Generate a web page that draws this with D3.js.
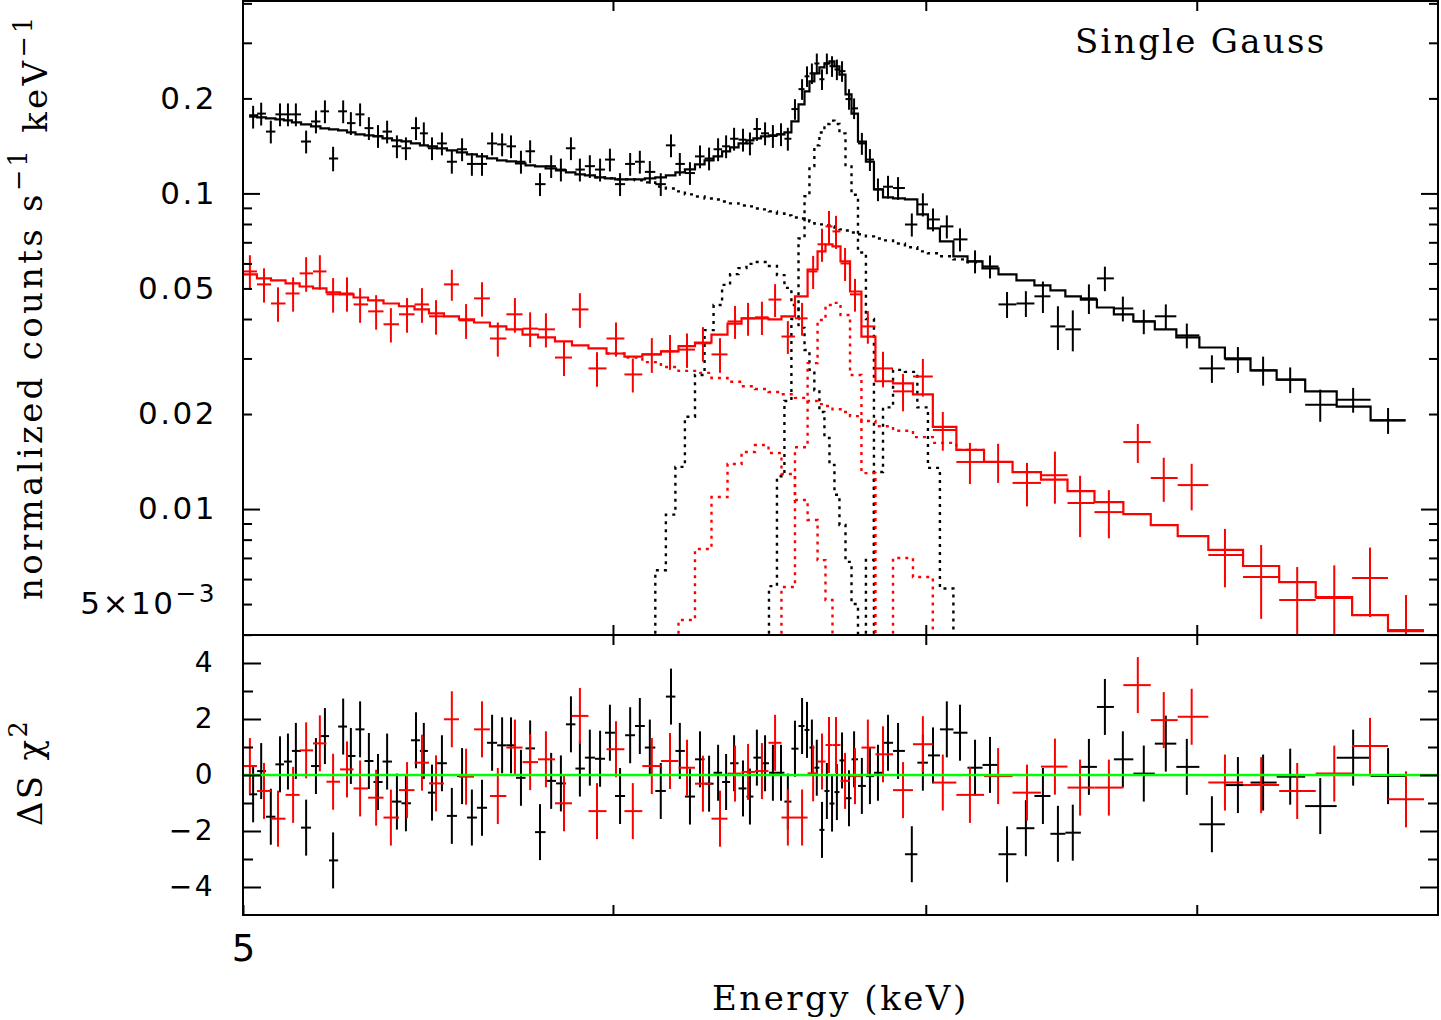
<!DOCTYPE html>
<html>
<head>
<meta charset="utf-8">
<script src="https://cdnjs.cloudflare.com/ajax/libs/d3/7.8.5/d3.min.js"></script>
<style>
  body { margin: 0; background: #fff; }
  svg { display: block; }
</style>
</head>
<body>
<svg id="chart"></svg>
<script>
// ---------- data (keV, normalized counts s^-1 keV^-1) ----------
var blackEnergy = [5.025,5.045,5.069,5.092,5.112,5.132,5.158,5.183,5.206,5.227,
  5.253,5.273,5.297,5.320,5.344,5.368,5.394,5.418,5.445,5.466,
  5.488,5.515,5.542,5.570,5.597,5.625,5.653,5.681,5.706,5.734,
  5.760,5.788,5.820,5.848,5.877,5.903,5.932,5.962,5.991,6.021,
  6.051,6.080,6.110,6.143,6.174,6.201,6.232,6.263,6.291,6.319,
  6.344,6.369,6.397,6.419,6.441,6.467,6.492,6.518,6.540,6.563,
  6.586,6.602,6.618,6.634,6.651,6.667,6.684,6.700,6.717,6.740,
  6.757,6.783,6.810,6.837,6.871,6.905,6.952,6.990,7.025,7.073,
  7.119,7.172,7.225,7.286,7.354,7.416,7.471,7.526,7.586,7.646,
  7.714,7.794,7.879,7.961,8.060,8.164,8.266,8.377,8.502,8.641,
  8.791];
var blackRate = [0.175,0.179,0.157,0.178,0.178,0.178,0.146,0.169,0.182,0.129,
  0.182,0.167,0.178,0.161,0.152,0.157,0.141,0.139,0.161,0.155,
  0.139,0.144,0.126,0.138,0.124,0.124,0.144,0.143,0.141,0.126,
  0.136,0.107,0.122,0.119,0.139,0.119,0.122,0.119,0.128,0.107,
  0.124,0.126,0.117,0.107,0.142,0.124,0.116,0.131,0.129,0.138,
  0.141,0.149,0.148,0.144,0.160,0.155,0.152,0.154,0.149,0.185,
  0.214,0.235,0.240,0.258,0.230,0.258,0.253,0.247,0.244,0.199,
  0.186,0.144,0.128,0.103,0.105,0.104,0.0797,0.0923,0.0827,0.0786,
  0.0715,0.0609,0.0587,0.0445,0.0448,0.0472,0.0379,0.0371,0.0465,0.0538,
  0.0432,0.0393,0.0408,0.0355,0.0279,0.0298,0.0275,0.0257,0.0214,0.0222,
  0.0191];
var blackErr = [0.0145,0.0149,0.0130,0.0148,0.0148,0.0148,0.0121,0.0140,0.0151,0.0115,
  0.0151,0.0139,0.0148,0.0134,0.0126,0.0130,0.0117,0.0115,0.0134,0.0129,
  0.0115,0.0120,0.0105,0.0115,0.0103,0.0103,0.0120,0.0119,0.0117,0.0105,
  0.0113,0.0089,0.0101,0.0099,0.0115,0.0099,0.0101,0.0099,0.0106,0.0089,
  0.0103,0.0105,0.0097,0.0089,0.0118,0.0103,0.0096,0.0109,0.0107,0.0115,
  0.0117,0.0124,0.0123,0.0120,0.0133,0.0129,0.0126,0.0128,0.0124,0.0139,
  0.0161,0.0176,0.0180,0.0194,0.0173,0.0194,0.0190,0.0185,0.0183,0.0149,
  0.0140,0.0115,0.0102,0.0085,0.0087,0.0086,0.0067,0.0078,0.0069,0.0066,
  0.0060,0.0051,0.0049,0.0042,0.0042,0.0054,0.0060,0.0055,0.0050,0.0048,
  0.0039,0.0035,0.0037,0.0032,0.0028,0.0028,0.0029,0.0024,0.0025,0.0020,
  0.0018];
var blackModel = [0.1767,0.1741,0.1729,0.1716,0.1703,0.1679,0.1654,0.1630,0.1607,0.1595,
  0.1584,0.1561,0.1538,0.1527,0.1516,0.1494,0.1472,0.1461,0.1440,0.1419,
  0.1409,0.1389,0.1369,0.1349,0.1329,0.1310,0.1291,0.1272,0.1263,0.1245,
  0.1227,0.1218,0.1200,0.1183,0.1166,0.1149,0.1140,0.1124,0.1116,0.1108,
  0.1108,0.1108,0.1116,0.1124,0.1140,0.1166,0.1191,0.1236,0.1272,0.1310,
  0.1359,0.1399,0.1440,0.1472,0.1494,0.1516,0.1527,0.1538,0.1561,0.1691,
  0.1914,0.2105,0.2264,0.2400,0.2508,0.2582,0.2620,0.2526,0.2380,0.2060,
  0.1790,0.1460,0.1260,0.1030,0.0971,0.0964,0.0957,0.0858,0.0775,0.0705,
  0.0632,0.0609,0.0579,0.0554,0.0530,0.0511,0.0493,0.0472,0.0461,0.0435,
  0.0414,0.0393,0.0371,0.0350,0.0325,0.0300,0.0275,0.0257,0.0236,0.0211,
  0.0191];
var blackDelChi = [-0.69,0.14,-1.49,0.38,0.48,0.86,-1.88,0.32,1.39,-3.05,
  1.73,0.68,1.63,0.50,-0.25,0.48,-0.95,-1.01,1.24,0.86,
  -0.63,0.42,-1.46,-0.04,-1.52,-1.17,1.15,1.06,1.06,-0.10,
  0.95,-2.04,-0.21,-0.30,1.81,0.23,0.62,0.58,1.51,-0.75,
  1.42,1.75,0.98,-0.57,2.80,0.86,-0.77,0.56,-0.31,0.08,
  -0.25,0.42,-0.48,-0.77,0.62,0.42,0.08,0.08,-0.95,0.94,
  1.75,1.61,0.98,0.26,-1.96,-0.57,-1.02,-0.61,0.52,-0.83,
  0.56,-0.39,-0.04,0.08,1.15,0.86,-2.83,0.44,0.70,1.63,
  1.51,0.26,0.36,-2.83,-1.90,-0.75,-2.10,-2.06,0.29,2.43,
  0.56,0.05,1.12,0.29,-1.76,-0.36,-0.27,-0.06,-1.11,0.62,
  -0.04];
// model components (dotted), first bin index given by *Start
var blackContStart = 37;
var blackCont = [0.1124,0.1116,0.1108,0.1108,0.1100,0.1084,0.1052,0.1037,0.1015,0.0993,
  0.0978,0.0964,0.0957,0.0943,0.0930,0.0916,0.0910,0.0896,0.0890,0.0877,
  0.0864,0.0852,0.0839,0.0833,0.0821,0.0815,0.0803,0.0798,0.0792,0.0786,
  0.0780,0.0769,0.0763,0.0752,0.0742,0.0731,0.0720,0.0710,0.0694,0.0675,
  0.0655,0.0646,0.0632,0.0618,0.0605];
var blackLineAStart = 43;
var blackLineA = [0.0064,0.0096,0.0136,0.0196,0.0266,0.0369,0.0443,0.0513,0.0555,0.0580,
  0.0598,0.0606,0.0606,0.0589,0.0551,0.0502,0.0443,0.0375,0.0319,0.0276,
  0.0238,0.0203,0.0168,0.0138,0.0111,0.0089,0.0068,0.0050,0.0036];
var blackLineBStart = 56;
var blackLineB = [0.0057,0.0127,0.022,0.040,0.072,0.098,0.122,0.142,0.156,0.166,
  0.170,0.166,0.155,0.123,0.099,0.065,0.040];
var blackLineCStart = 72;
var blackLineC = [0.0069,0.0131,0.0210,0.0276,0.0272,0.0210,0.0135,0.0056];

var redEnergy = [5.017,5.052,5.087,5.125,5.158,5.193,5.227,5.263,5.297,5.339,
  5.378,5.421,5.461,5.499,5.542,5.581,5.625,5.669,5.717,5.760,
  5.805,5.857,5.903,5.953,6.009,6.059,6.116,6.171,6.223,6.272,
  6.325,6.372,6.413,6.457,6.499,6.540,6.586,6.622,6.651,6.674,
  6.697,6.727,6.760,6.803,6.854,6.922,6.990,7.059,7.154,7.254,
  7.358,7.460,7.553,7.661,7.771,7.871,7.980,8.112,8.258,8.406,
  8.561,8.713,8.869];
var redRate = [0.0566,0.0515,0.0448,0.0482,0.0558,0.0566,0.0479,0.0482,0.0445,0.0423,
  0.0385,0.0414,0.0445,0.0408,0.0515,0.0396,0.0465,0.0347,0.0414,0.0373,
  0.0371,0.0302,0.0429,0.0279,0.0347,0.0267,0.0309,0.0316,0.0320,0.0335,
  0.0309,0.0393,0.0402,0.0405,0.0461,0.0352,0.0402,0.0566,0.0690,0.0786,
  0.0758,0.0600,0.0479,0.0379,0.0279,0.0236,0.0263,0.0178,0.0141,0.0141,
  0.0121,0.0128,0.01045,0.00978,0.0163,0.01254,0.01191,0.00715,0.00609,0.00515,
  0.00523,0.00605,0.00414];
var redErr = [0.0071,0.0064,0.0056,0.0060,0.0070,0.0071,0.0060,0.0060,0.0056,0.0053,
  0.0048,0.0052,0.0056,0.0051,0.0058,0.0050,0.0058,0.0043,0.0052,0.0047,
  0.0046,0.0038,0.0054,0.0035,0.0043,0.0033,0.0039,0.0040,0.0040,0.0042,
  0.0039,0.0047,0.0048,0.0049,0.0055,0.0042,0.0048,0.0068,0.0083,0.0094,
  0.0091,0.0072,0.0057,0.0045,0.0036,0.0032,0.0036,0.0025,0.0021,0.0020,
  0.0019,0.0024,0.0023,0.0017,0.0023,0.0020,0.0020,0.0015,0.0016,0.0014,
  0.0014,0.0015,0.0012];
var redModel = [0.0554,0.0538,0.0530,0.0519,0.0507,0.0500,0.0486,0.0479,0.0468,0.0458,
  0.0448,0.0439,0.0429,0.0417,0.0408,0.0399,0.0390,0.0379,0.0371,0.0357,
  0.0350,0.0340,0.0330,0.0323,0.0311,0.0304,0.0309,0.0316,0.0328,0.0337,
  0.0357,0.0387,0.0402,0.0402,0.0399,0.0408,0.0472,0.0574,0.0655,0.0690,
  0.0680,0.0609,0.0489,0.0352,0.0254,0.0250,0.0231,0.0182,0.0154,0.0141,
  0.0131,0.0124,0.0114,0.01052,0.00964,0.00890,0.00821,0.00742,0.00660,0.00587,
  0.00526,0.00461,0.00410];
var redDelChi = [0.32,-0.57,-1.56,-0.71,0.88,1.13,-0.24,0.20,-0.48,-0.81,
  -1.52,-0.54,0.44,-0.30,1.99,-0.06,1.63,-0.75,0.98,0.46,
  0.56,-1.01,2.11,-1.29,0.92,-1.29,0.32,0.50,0.26,-0.31,
  -1.56,0.05,0.11,0.14,1.15,-1.52,-1.52,0.06,0.48,1.07,
  1.07,-0.21,-0.04,0.98,0.74,-0.54,1.10,-0.27,-0.71,-0.04,
  -0.63,0.30,-0.45,-0.45,3.21,1.96,2.08,-0.27,-0.36,-0.57,
  0.05,1.04,-0.87];
var redContStart = 24;
var redCont = [0.0311,0.0302,0.0292,0.0282,0.0274,0.0270,0.0260,0.0253,0.0245,0.0240,
  0.0235,0.0231,0.0225,0.0220,0.0215,0.0212,0.0207,0.0203,0.0197,0.0190,
  0.0183,0.0177,0.0169,0.0162,0.0154];
var redLineAStart = 28;
var redLineA = [0.00445,0.00747,0.01092,0.01389,0.01516,0.01595,0.01505,0.01291,0.01068,0.00923,
  0.00689,0.00515,0.00385];
var redLineBStart = 35;
var redLineB = [0.00566,0.0157,0.0290,0.0397,0.0443,0.0450,0.0412,0.0266,0.0130];
var redLineCStart = 45;
var redLineC = [0.00700,0.00609];

// axis ticks and labels
var energyTicks = [6, 7, 8];
var yTopMajorTicks = [0.01, 0.1];
var yTopMinorTicks = [0.004,0.005,0.006,0.007,0.008,0.009,0.02,0.03,0.04,0.05,0.06,0.07,0.08,0.09,0.2,0.3,0.4];
var yTopLabelValues = [0.2, 0.1, 0.05, 0.02, 0.01, 0.005];
var yTopLabels = ["0.2", "0.1", "0.05", "0.02", "0.01", "5\u00d710"];
var resMajorTicks = [-4, -2, 0, 2, 4];
var resMinorTicks = [-3, -1, 1, 3];
var resLabels = ["\u22124", "\u22122", "0", "2", "4"];

// ---------- layout ----------
var width = 1441, height = 1020;
var plotLeft = 243, plotRight = 1438, plotTop = 1, panelSplit = 635, plotBottom = 915;

var svg = d3.select("#chart")
  .attr("width", width)
  .attr("height", height);

var x = d3.scaleLog().domain([5, 9.01]).range([plotLeft, plotRight]);
var y = d3.scaleLog().domain([0.00399, 0.407]).range([panelSplit, plotTop]);
var yRes = d3.scaleLinear().domain([-5, 5]).range([plotBottom, panelSplit]);

var defs = svg.append("defs");
defs.append("clipPath").attr("id", "clipTop").append("rect")
  .attr("x", plotLeft).attr("y", plotTop)
  .attr("width", plotRight - plotLeft).attr("height", panelSplit - plotTop);
defs.append("clipPath").attr("id", "clipRes").append("rect")
  .attr("x", plotLeft).attr("y", panelSplit)
  .attr("width", plotRight - plotLeft).attr("height", plotBottom - panelSplit);

// bin edges halfway (in log E) between neighbouring bin centres
function edgesOf(c) {
  var e = [];
  for (var i = 1; i < c.length; i++) e.push(Math.sqrt(c[i - 1] * c[i]));
  e.unshift(c[0] * c[0] / e[0]);
  var n = c.length - 1;
  e.push(c[n] * c[n] / e[e.length - 1]);
  return e;
}
var blackEdges = edgesOf(blackEnergy);
var redEdges = edgesOf(redEnergy);

var topG = svg.append("g").attr("clip-path", "url(#clipTop)");
var resG = svg.append("g").attr("clip-path", "url(#clipRes)");

function crosses(g, edges, centers, vals, errFn, color, yScale) {
  var c = g.append("g").attr("stroke", color).attr("stroke-width", 2);
  c.selectAll("line.h").data(vals).enter().append("line").attr("class", "h")
    .attr("x1", function(d, i) { return x(edges[i]); })
    .attr("x2", function(d, i) { return x(edges[i + 1]); })
    .attr("y1", function(d) { return yScale(d); })
    .attr("y2", function(d) { return yScale(d); });
  c.selectAll("line.v").data(vals).enter().append("line").attr("class", "v")
    .attr("x1", function(d, i) { return x(centers[i]); })
    .attr("x2", function(d, i) { return x(centers[i]); })
    .attr("y1", function(d, i) { return yScale(d - errFn(i)); })
    .attr("y2", function(d, i) { return yScale(d + errFn(i)); });
}

var stepLine = d3.line()
  .x(function(d) { return x(d[0]); })
  .y(function(d) { return y(d[1]); });

function steps(edges, vals, start, drop) {
  var pts = [];
  if (drop) pts.push([edges[start], 0.002]);
  vals.forEach(function(v, k) {
    pts.push([edges[start + k], v], [edges[start + k + 1], v]);
  });
  if (drop) pts.push([edges[start + vals.length], 0.002]);
  return pts;
}

function drawSpectrum(edges, energy, rate, err, model, comps, color) {
  crosses(topG, edges, energy, rate, function(i) { return err[i]; }, color, y);
  topG.append("path")
    .attr("d", stepLine(steps(edges, model, 0, false)))
    .attr("fill", "none").attr("stroke", color).attr("stroke-width", 2.2);
  comps.forEach(function(c) {
    topG.append("path")
      .attr("d", stepLine(steps(edges, c.vals, c.start, c.drop)))
      .attr("fill", "none").attr("stroke", color).attr("stroke-width", 2.4)
      .attr("stroke-dasharray", "3,5");
  });
}

drawSpectrum(blackEdges, blackEnergy, blackRate, blackErr, blackModel, [
  { vals: blackCont, start: blackContStart, drop: false },
  { vals: blackLineA, start: blackLineAStart, drop: true },
  { vals: blackLineB, start: blackLineBStart, drop: true },
  { vals: blackLineC, start: blackLineCStart, drop: true }
], "#000");
drawSpectrum(redEdges, redEnergy, redRate, redErr, redModel, [
  { vals: redCont, start: redContStart, drop: false },
  { vals: redLineA, start: redLineAStart, drop: true },
  { vals: redLineB, start: redLineBStart, drop: true },
  { vals: redLineC, start: redLineCStart, drop: true }
], "#ff0000");

// residuals, error of one sigma
crosses(resG, blackEdges, blackEnergy, blackDelChi, function() { return 1; }, "#000", yRes);
crosses(resG, redEdges, redEnergy, redDelChi, function() { return 1; }, "#ff0000", yRes);
resG.append("line")
  .attr("x1", plotLeft).attr("x2", plotRight)
  .attr("y1", yRes(0)).attr("y2", yRes(0))
  .attr("stroke", "#00ff00").attr("stroke-width", 2.5);

// ---------- axes ----------
function tickAxis(axis, tx, ty, size) {
  var g = svg.append("g")
    .attr("transform", "translate(" + tx + "," + ty + ")")
    .call(axis);
  g.select(".domain").remove();
  g.selectAll("line").attr("stroke-width", 2);
  g.attr("font-family", "'DejaVu Sans', sans-serif").attr("font-size", size || 31);
  g.selectAll("text").attr("letter-spacing", 2.5).attr("fill", "#000");
  return g;
}
function topLabel(d) {
  for (var i = 0; i < yTopLabelValues.length; i++) {
    if (Math.abs(yTopLabelValues[i] - d) < 1e-9) return yTopLabels[i];
  }
  return "";
}

var minorLeft = tickAxis(d3.axisLeft(y).tickValues(yTopMinorTicks)
  .tickSizeInner(-9).tickSizeOuter(0).tickPadding(26).tickFormat(topLabel), plotLeft, 0);
minorLeft.selectAll("text")
  .filter(function(d) { return Math.abs(d - 0.005) < 1e-9; })
  .append("tspan").attr("dy", "-0.5em").attr("font-size", "0.8em").text("\u22123");
tickAxis(d3.axisLeft(y).tickValues(yTopMajorTicks)
  .tickSizeInner(-17).tickSizeOuter(0).tickPadding(26).tickFormat(topLabel), plotLeft, 0);
tickAxis(d3.axisRight(y).tickValues(yTopMinorTicks)
  .tickSizeInner(-9).tickSizeOuter(0).tickFormat(""), plotRight, 0);
tickAxis(d3.axisRight(y).tickValues(yTopMajorTicks)
  .tickSizeInner(-17).tickSizeOuter(0).tickFormat(""), plotRight, 0);

tickAxis(d3.axisLeft(yRes).tickValues(resMajorTicks)
  .tickSizeInner(-18).tickSizeOuter(0).tickPadding(28)
  .tickFormat(function(d) { return resLabels[resMajorTicks.indexOf(d)]; }), plotLeft, 0, 28);
tickAxis(d3.axisLeft(yRes).tickValues(resMinorTicks)
  .tickSizeInner(-10).tickSizeOuter(0).tickFormat(""), plotLeft, 0);
tickAxis(d3.axisRight(yRes).tickValues(resMajorTicks)
  .tickSizeInner(-18).tickSizeOuter(0).tickFormat(""), plotRight, 0);
tickAxis(d3.axisRight(yRes).tickValues(resMinorTicks)
  .tickSizeInner(-10).tickSizeOuter(0).tickFormat(""), plotRight, 0);

tickAxis(d3.axisTop(x).tickValues(energyTicks).tickSizeInner(-10).tickSizeOuter(0).tickFormat(""), 0, plotTop);
tickAxis(d3.axisBottom(x).tickValues(energyTicks).tickSizeInner(-10).tickSizeOuter(0).tickFormat(""), 0, panelSplit);
tickAxis(d3.axisTop(x).tickValues(energyTicks).tickSizeInner(-10).tickSizeOuter(0).tickFormat(""), 0, panelSplit);
tickAxis(d3.axisBottom(x).tickValues([5].concat(energyTicks)).tickSizeInner(-10).tickSizeOuter(0)
  .tickPadding(20).tickFormat(function(d) { return d === 5 ? "5" : ""; }), 0, plotBottom, 37)
  .selectAll("text").attr("letter-spacing", 0);

// frames
svg.append("rect")
  .attr("x", plotLeft).attr("y", plotTop)
  .attr("width", plotRight - plotLeft).attr("height", panelSplit - plotTop)
  .attr("fill", "none").attr("stroke", "#000").attr("stroke-width", 2);
svg.append("rect")
  .attr("x", plotLeft).attr("y", panelSplit)
  .attr("width", plotRight - plotLeft).attr("height", plotBottom - panelSplit)
  .attr("fill", "none").attr("stroke", "#000").attr("stroke-width", 2);

// ---------- titles ----------
var serif = "'DejaVu Serif', serif";
var yLab = svg.append("text")
  .attr("transform", "translate(42,600) rotate(-90)")
  .attr("font-family", serif).attr("font-size", 34).attr("letter-spacing", 3.3);
yLab.append("tspan").text("normalized counts s");
yLab.append("tspan").attr("dy", "-0.6em").attr("font-size", "0.75em").text("\u22121");
yLab.append("tspan").attr("dy", "0.6em").text(" keV");
yLab.append("tspan").attr("dy", "-0.6em").attr("font-size", "0.75em").text("\u22121");

var rLab = svg.append("text")
  .attr("transform", "translate(42,826) rotate(-90)")
  .attr("font-family", serif).attr("font-size", 34).attr("letter-spacing", 2.3);
rLab.append("tspan").text("\u0394S \u03c7");
rLab.append("tspan").attr("dy", "-0.6em").attr("font-size", "0.75em").text("2");

svg.append("text")
  .attr("x", 712).attr("y", 1010)
  .attr("font-family", serif).attr("font-size", 34).attr("letter-spacing", 2.5)
  .text("Energy (keV)");

svg.append("text")
  .attr("x", 1075).attr("y", 53)
  .attr("font-family", serif).attr("font-size", 34).attr("letter-spacing", 2.3)
  .text("Single Gauss");
</script>
</body>
</html>
